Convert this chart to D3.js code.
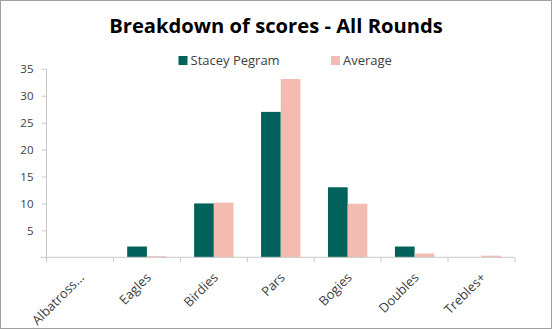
<!DOCTYPE html>
<html><head><meta charset="utf-8">
<script src="https://cdn.jsdelivr.net/npm/d3@7"></script>
<style>
html,body{margin:0;padding:0;background:#fff;}
svg{display:block;font-family:"Open Sans","Noto Sans",sans-serif;}
</style></head>
<body>
<svg id="chart" width="552" height="329"></svg>
<script>
const categories = ["Albatross...", "Eagles", "Birdies", "Pars", "Bogies", "Doubles", "Trebles+"];
const seriesNames = ["Stacey Pegram", "Average"];
const staceyValues = [0, 2, 10, 27, 13, 2, 0];
const averageValues = [0, 0.2, 10.15, 33.1, 9.95, 0.7, 0.3];
const yTicks = [5, 10, 15, 20, 25, 30, 35];
const colors = ["#00625A", "#F4BCB0"];

(function(){
const svg = d3.select("#chart");
const W = 552, H = 329;
svg.append("rect").attr("x",0.5).attr("y",0.5).attr("width",W-1).attr("height",H-1)
  .attr("fill","#fff").attr("stroke","#a0a0a0").attr("stroke-width",1);

const pL = 46.5, pR = 515, pT = 68.8, pB = 257.3;
const x = d3.scaleBand().domain(categories).range([pL, pR]).paddingInner(0).paddingOuter(0);
const y = d3.scaleLinear().domain([0, 35]).range([pB, pT]);
const xs = d3.scaleBand().domain(seriesNames).range([0, x.bandwidth()]).paddingInner(0).paddingOuter(0.7);

// title
svg.append("text").attr("x", 276).attr("y", 33.3).attr("text-anchor","middle")
  .attr("font-size", 20.2).attr("font-weight","bold").attr("fill","#000")
  .text("Breakdown of scores - All Rounds");

// legend
const legend = [{name: seriesNames[0], x: 178.5}, {name: seriesNames[1], x: 331}];
legend.forEach((l, i) => {
  svg.append("rect").attr("x", l.x).attr("y", 56).attr("width", 9).attr("height", 9).attr("fill", colors[i]);
  svg.append("text").attr("x", l.x + 12).attr("y", 65).attr("font-size", 13).attr("fill","#404040").text(l.name);
});

// y axis
const yAxis = d3.axisLeft(y).tickValues(yTicks).tickSize(5).tickSizeOuter(0);
const gy = svg.append("g").attr("transform", `translate(${pL},0)`).call(yAxis);
gy.select(".domain").attr("stroke","#c8c8c8").attr("d", `M0,${pT}V${pB}`);
gy.selectAll(".tick line").attr("stroke","#c8c8c8");
gy.selectAll(".tick text").attr("font-size", 11.5).attr("fill","#404040")
  .attr("font-family","Open Sans, sans-serif").attr("x",-13);

// bars
const data = categories.map((c, i) => ({cat: c, vals: [staceyValues[i], averageValues[i]]}));
const groups = svg.append("g").selectAll("g").data(data).join("g")
  .attr("transform", d => `translate(${x(d.cat)},0)`);
groups.selectAll("rect").data(d => d.vals.map((v, j) => ({v, s: seriesNames[j], j})))
  .join("rect")
  .attr("x", d => xs(d.s))
  .attr("width", xs.bandwidth())
  .attr("y", d => y(d.v))
  .attr("height", d => y(0) - y(d.v))
  .attr("fill", d => colors[d.j]);

// x axis
const xAxis = d3.axisBottom(x).tickSize(0).tickSizeOuter(0);
const gx = svg.append("g").attr("transform", `translate(0,${pB})`).call(xAxis);
gx.select(".domain").attr("stroke","#c8c8c8").attr("d", `M${pL-6},0H${pR}`);
const edges = categories.map(c => x(c)).concat([pR]);
gx.selectAll(".edge").data(edges).join("line").attr("class","edge")
  .attr("x1", d => d).attr("x2", d => d).attr("y1", 0).attr("y2", 5).attr("stroke","#c8c8c8");
gx.selectAll(".tick text")
  .attr("font-size", 13).attr("fill","#404040").attr("font-family","Open Sans, sans-serif")
  .attr("text-anchor","end")
  .attr("x",0).attr("y",0).attr("dy",0)
  .attr("transform","translate(5,21) rotate(-45)");
})();
</script>
</body></html>
